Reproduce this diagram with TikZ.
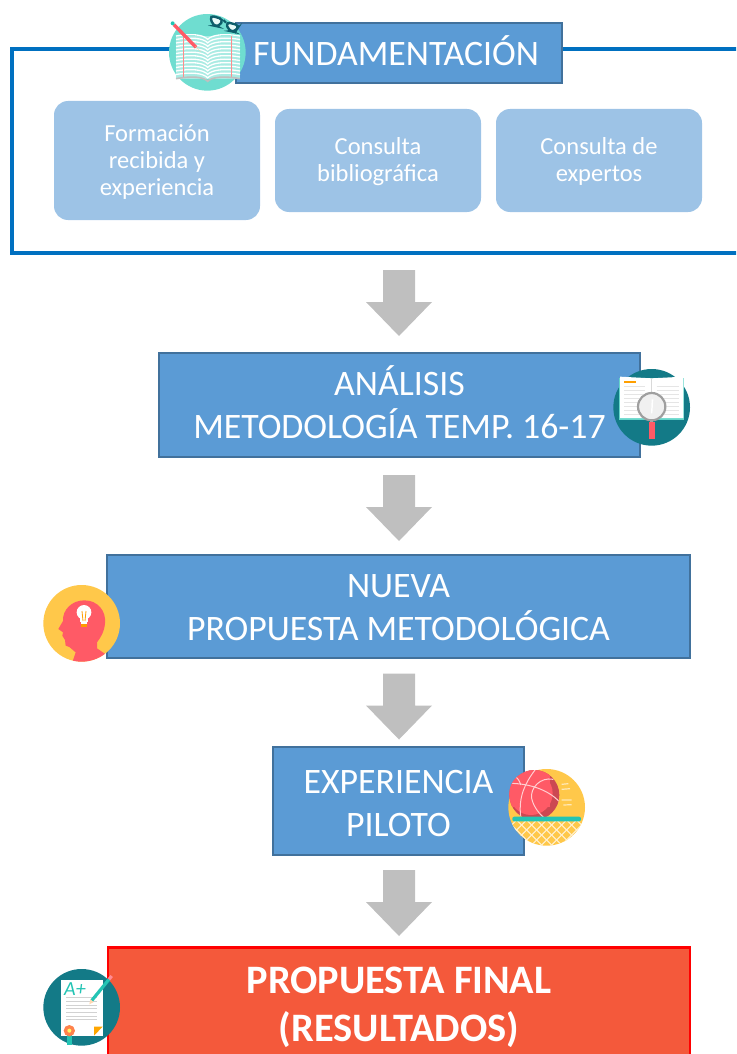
\documentclass[tikz,border=0pt]{standalone}
\usepackage{fontspec}
\setmainfont{Carlito}
\usetikzlibrary{calc, positioning}
\definecolor{boxblue}{HTML}{5B9BD5}
\definecolor{boxedge}{HTML}{41719C}
\definecolor{subblue}{HTML}{9DC3E6}
\definecolor{frameblue}{HTML}{0070C0}
\definecolor{arrowgray}{HTML}{BFBFBF}
\definecolor{finalred}{HTML}{F4593B}
\definecolor{iconmint}{HTML}{6FDDD0}
\definecolor{iconteal}{HTML}{137A87}
\definecolor{icondark}{HTML}{0E5E6B}
\definecolor{iconyellow}{HTML}{FFC84A}
\definecolor{iconred}{HTML}{FF5A66}
\definecolor{iconaqua}{HTML}{23C4B4}
\tikzstyle{stepbox}=[draw=boxedge, line width=1.5pt, fill=boxblue, inner sep=0pt]
\tikzstyle{steptext}=[text=white, inner sep=0pt, align=center, font=\fontsize{35.8}{43}\selectfont]
\tikzstyle{subbox}=[fill=subblue, rounded corners=14pt, inner sep=0pt]
\tikzstyle{subtext}=[text=white, inner sep=0pt, align=center, font=\fontsize{24.5}{27}\selectfont]
\tikzstyle{finalbox}=[draw=red, line width=2.5pt, fill=finalred, text=white, inner sep=0pt, align=center, font=\fontsize{40.4}{48}\selectfont\bfseries]
\tikzstyle{frameline}=[frameblue, line width=4pt]

\begin{document}
\begin{tikzpicture}[x=1pt, y=-1pt]
\path[use as bounding box, clip] (0,0) rectangle (736,1054);

% frame
\coordinate (frameleft) at (180,49);
\coordinate (frametl) at (12,49);
\coordinate (framebl) at (12,253);
\coordinate (framebr) at (740,253);
\coordinate (frametr) at (740,49);
\draw[frameline] (frameleft) -- (frametl) -- (framebl) -- (framebr);
\draw[frameline] (562,49) -- (frametr);

% boxes
\node[stepbox, minimum width=326pt, minimum height=60pt, label={[steptext, yshift=2pt, xshift=-3pt]center:FUNDAMENTACIÓN}] (fund) at (399,53) {};
\node[subbox, minimum width=206pt, minimum height=119pt, label={[subtext, yshift=-2pt]center:Formación\\recibida y\\experiencia}] (formacion) at (157,160.5) {};
\node[subbox, minimum width=206pt, minimum height=103pt, label={[subtext, yshift=-1.5pt]center:Consulta\\bibliográfica}] (consulta) at (378,160.5) {};
\node[subbox, minimum width=206pt, minimum height=103pt, label={[subtext, yshift=-1pt]center:Consulta de\\expertos}] (expertos) at (599,160.5) {};
\node[stepbox, minimum width=481pt, minimum height=104pt, label={[steptext, yshift=3pt]center:ANÁLISIS\\METODOLOGÍA TEMP. 16-17}] (analisis) at (399.5,405) {};
\node[stepbox, minimum width=583pt, minimum height=103pt, label={[steptext, yshift=-1pt]center:NUEVA\\PROPUESTA METODOLÓGICA}] (nueva) at (398.5,606.5) {};
\node[stepbox, minimum width=251pt, minimum height=108pt, label={[steptext, yshift=-2.5pt]center:EXPERIENCIA\\PILOTO}] (piloto) at (398.5,801) {};
\node[finalbox, minimum width=582pt, minimum height=120pt, anchor=north] (final) at (399,946) {PROPUESTA FINAL\\(RESULTADOS)};

% arrows
\foreach \y in {270,475,673.5,870}
{
\fill[arrowgray] (383,\y) -- (415,\y) -- (415,\y+32) -- (432,\y+32) -- (399,\y+66) -- (366,\y+32) -- (383,\y+32) -- cycle;
}

% book icon
\begin{scope}[shift={(150,0)}, scale=1/3]
\fill[iconmint] (172,157) circle (115);
\fill[iconmint!60!white] (78,108) rectangle (270,238);
\foreach \k in {0,1,...,11}
{
\draw[white, line width=1.3pt] (78,{108+10.5*\k}) .. controls (125,{100+10.5*\k}) and (160,{104+10.5*\k}) .. (173,{118+10.5*\k}) .. controls (186,{104+10.5*\k}) and (225,{100+10.5*\k}) .. (270,{108+10.5*\k});
}
\draw[red!45!white, line width=0.8pt] (100,108) -- (100,230);
\draw[red!45!white, line width=0.8pt] (245,108) -- (245,230);
\draw[gray!50, line width=1.6pt] (78,236) .. controls (125,228) and (160,230) .. (173,244) .. controls (186,230) and (225,228) .. (270,236);
\draw[iconred, line width=3.4pt] (72,74) -- (138,142);
\fill[iconaqua] (68,70) circle (6);
\fill[orange!40!white] (135,138) -- (153,155) -- (143,147) -- cycle;
\draw[icondark, line width=2.4pt, fill=white!85!iconmint, rounded corners=4pt] (180,46) -- (220,58) -- (207,80) -- (188,76) -- cycle;
\draw[icondark, line width=2.4pt, fill=white!85!iconmint, rounded corners=4pt] (228,66) -- (268,76) -- (255,96) -- (236,92) -- cycle;
\draw[icondark, line width=2.2pt] (220,60) -- (228,68);
\end{scope}

% magnifier icon
\begin{scope}[shift={(600,360)}, scale=1/3]
\fill[iconteal] (155,142) circle (115);
\fill[iconaqua!70!white] (57,55) rectangle (252,180);
\fill[white] (60,50) -- (155,55) -- (250,50) -- (250,174) -- (155,174) -- (60,174) -- cycle;
\draw[gray!30, line width=0.5pt] (155,55) -- (155,174);
\fill[orange!75!yellow] (73,62) rectangle (107,68);
\foreach \k in {80,92,...,164}
{
\draw[gray!20, line width=1pt] (72,\k) -- (135,\k);
\draw[gray!20, line width=1pt] (170,\k) -- (238,\k);
}
\draw[gray!75, line width=2.2pt, fill=gray!12] (155,140) circle (41);
\fill[white] (155,118) -- (160,118) -- (157,160) -- (153,160) -- cycle;
\fill[gray!70] (151,181) rectangle (160,187);
\fill[iconred] (148,187) rectangle (164,238);
\end{scope}

% head icon
\begin{scope}[shift={(35,575)}, scale=1/3]
\fill[iconyellow] (140,145) circle (115);
\clip (140,145) circle (115);
\fill[iconred] (112,262) -- (122,232) -- (103,216) -- (92,212) -- (90,195) -- (82,182) -- (84,172) -- (70,162) -- (84,138) .. controls (82,105) and (110,76) .. (148,76) .. controls (190,76) and (214,110) .. (210,145) .. controls (208,172) and (195,190) .. (186,202) -- (186,220) -- (215,240) -- (215,262) -- cycle;
\fill[white] (147,112) circle (22);
\fill[white] (135,125) rectangle (159,140);
\draw[orange!75!yellow, line width=0.8pt] (141,108) -- (144,138) (153,108) -- (150,138);
\fill[white] (138,140) rectangle (156,146);
\fill[orange!80!yellow] (137,147) rectangle (157,155);
\end{scope}

% basket icon
\begin{scope}[shift={(500,760)}, scale=1/3]
\fill[iconyellow] (140,142) circle (115);
\begin{scope}
\clip (140,142) circle (115);
\foreach \k in {-100,-70,...,280}
{
\draw[white!75!iconyellow, line width=1pt] (\k,180) -- ({\k+80},260);
\draw[white!75!iconyellow, line width=1pt] (\k,180) -- ({\k-80},260);
}
\end{scope}
\fill[iconred!80!black] (103,105) circle (75);
\fill[iconred] (93,100) circle (65);
\begin{scope}
\clip (103,105) circle (75);
\fill[iconred] (28,30) rectangle (150,140);
\draw[white!70!iconred, line width=1pt] (105,30) .. controls (75,70) and (55,110) .. (62,170);
\draw[white!70!iconred, line width=1pt] (28,70) .. controls (80,70) and (140,85) .. (178,125);
\draw[white!70!iconred, line width=1pt] (160,58) .. controls (120,50) and (90,85) .. (95,115) .. controls (100,140) and (120,165) .. (135,175);
\draw[white!70!iconred, line width=1pt] (40,45) .. controls (55,55) and (60,65) .. (62,75);
\end{scope}
\draw[white!60!iconyellow, line width=1.2pt] (185,73) -- (205,71) (185,88) -- (210,86) (185,120) -- (215,120) (190,135) -- (215,134);
\fill[iconaqua, rounded corners=2pt] (37,170) rectangle (243,184);
\end{scope}

% paper icon
\begin{scope}[shift={(35,960)}, scale=1/3]
\fill[iconteal] (140,142) circle (115);
\fill[white] (78,60) rectangle (203,227);
\fill[orange!70!yellow] (177,227) -- (203,200) -- (177,200) -- cycle;
\node[text=iconaqua, inner sep=0pt, font=\fontsize{20}{20}\selectfont\itshape] (aplus) at (120,88) {A+};
\foreach \k in {113,124,...,183}
{
\draw[gray!35, line width=0.9pt] (93,\k) -- (185,\k);
}
\draw[iconaqua, line width=3.2pt] (222,58) -- (170,122);
\draw[iconred!70!white, line width=3.2pt] (230,48) -- (222,58);
\fill[orange!30!white] (163,133) -- (166,118) -- (176,126) -- cycle;
\fill[iconaqua] (97,222) rectangle (110,255);
\fill[orange!60!red!70!white] (103,212) circle (17);
\fill[yellow!60!white] (103,212) circle (6);
\end{scope}
\end{tikzpicture}
\end{document}
